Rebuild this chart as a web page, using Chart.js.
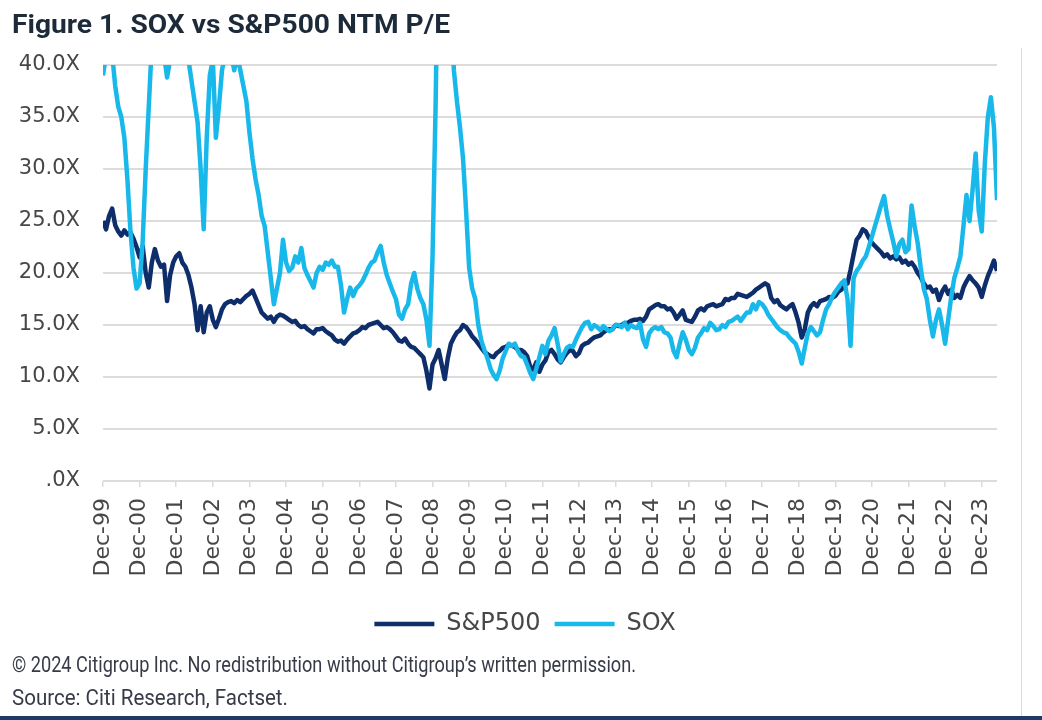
<!DOCTYPE html>
<html>
<head>
<meta charset="utf-8">
<script src="https://cdn.jsdelivr.net/npm/chart.js@4.4.0/dist/chart.umd.min.js"></script>
<style>
html,body{margin:0;padding:0;background:#fff;}
#wrap{position:relative;width:1042px;height:720px;overflow:hidden;background:#fff;}
#c{position:absolute;left:0;top:0;}
.txt{position:absolute;left:12px;white-space:nowrap;transform-origin:0 0;display:inline-block;}
#title{top:11px;font-family:Roboto,sans-serif;font-weight:700;font-size:26px;line-height:26px;color:#1d2a39;}
#f1{top:654px;font-family:Roboto,sans-serif;font-size:22px;line-height:22px;color:#363b47;}
#f2{top:687px;font-family:Roboto,sans-serif;font-size:22px;line-height:22px;color:#363b47;}
#bar{position:absolute;left:0;top:716px;width:1042px;height:4px;background:#1f3a66;}
#rline{position:absolute;left:1021px;top:48px;width:1px;height:668px;background:#dadada;}
</style>
</head>
<body>
<div id="wrap">
  <canvas id="c" width="1042" height="720"></canvas>
  <div id="title" class="txt">Figure 1. SOX vs S&amp;P500 NTM P/E</div>
  <div id="f1" class="txt">© 2024 Citigroup Inc. No redistribution without Citigroup’s written permission.</div>
  <div id="f2" class="txt">Source: Citi Research, Factset.</div>
  <div id="bar"></div>
  <div id="rline"></div>
</div>
<script>
// Monthly observations, index 0 = Dec-99
const seriesNames = ['S&P500', 'SOX'];

const sp500Values = [
  25.0, 24.2, 25.5, 26.2, 24.6, 24.0, 23.6, 24.1, 23.7, 23.9, 23.3, 22.5,
  21.5, 22.6, 20.0, 18.6, 21.0, 22.3, 21.2, 20.6, 20.8, 17.3, 19.8, 21.0,
  21.6, 21.9, 21.0, 20.6, 19.8, 18.6, 17.0, 14.5, 16.8, 14.3, 16.2, 16.8,
  15.5, 14.8, 15.6, 16.5, 17.0, 17.2, 17.3, 17.1, 17.4, 17.2, 17.5, 17.8,
  18.0, 18.3, 17.6, 16.9, 16.2, 15.9, 15.6, 15.8, 15.3, 15.8, 16.0, 15.9,
  15.7, 15.5, 15.3, 15.4, 15.0, 14.8, 14.9, 14.6, 14.4, 14.2, 14.6, 14.6,
  14.7, 14.4, 14.2, 14.0, 13.6, 13.4, 13.5, 13.2, 13.6, 13.9, 14.2, 14.3,
  14.5, 14.8, 14.7, 15.0, 15.1, 15.2, 15.3, 15.0, 14.7, 14.8, 14.6, 14.3,
  13.9, 13.5, 13.4, 13.7, 13.2, 12.9, 12.8, 12.5, 12.2, 11.9, 10.6, 8.9,
  11.2, 11.8, 12.6, 11.2, 9.8, 11.8, 13.2, 13.8, 14.3, 14.5, 15.0, 14.8,
  14.4, 13.9, 13.6, 13.2, 12.8, 12.4, 12.2, 12.0, 11.9, 12.3, 12.5, 12.8,
  12.9, 13.1, 13.0, 12.9, 12.6, 12.6, 12.4, 12.0, 11.0, 10.7, 11.4, 10.5,
  11.2, 11.6, 12.4, 12.6, 12.2, 11.7, 11.4, 11.9, 12.3, 12.6, 12.5, 12.0,
  12.3, 13.0, 13.2, 13.3, 13.6, 13.8, 13.9, 14.0, 14.3, 14.5, 14.6, 14.6,
  15.0, 14.9, 15.0, 15.2, 15.2, 15.4, 15.5, 15.5, 15.6, 15.4, 15.8, 16.5,
  16.7, 16.9, 17.0, 16.8, 16.8, 16.5, 16.6, 16.2, 15.6, 16.0, 16.4, 15.5,
  15.4, 15.3, 15.8, 16.4, 16.6, 16.4, 16.8, 16.9, 17.0, 16.8, 16.9, 17.0,
  17.5, 17.4, 17.6, 17.6, 18.0, 17.9, 17.8, 17.7, 17.9, 18.1, 18.4, 18.6,
  18.8, 19.0, 18.8, 17.6, 17.2, 17.4, 16.9, 16.7, 16.5, 16.8, 17.0, 16.2,
  15.2, 13.8, 14.6, 16.2, 16.8, 17.1, 16.8, 17.3, 17.4, 17.5, 17.7, 17.6,
  17.8, 18.2, 18.4, 18.8, 19.0, 20.3, 21.8, 23.2, 23.6, 24.2, 24.0, 23.4,
  22.9, 22.6, 22.3, 22.0, 21.6, 21.8, 21.4, 21.6, 21.3, 21.5, 21.0, 21.2,
  20.8, 21.0, 20.6, 20.0, 19.6, 19.0, 18.6, 18.7, 18.2, 18.4, 17.4, 18.2,
  18.7, 18.0, 18.4, 17.6, 17.9, 17.6, 18.6, 19.2, 19.7, 19.3, 19.0, 18.6,
  17.7, 18.8, 19.7, 20.4, 21.2, 20.2
];

const soxValues = [
  39.0, 41.0, 44.0, 41.0, 38.0, 36.0, 35.0, 33.0, 29.0, 24.0, 20.5, 18.5,
  19.0, 23.0, 30.0, 36.0, 42.0, 48.0, 50.0, 46.0, 41.0, 38.8, 40.5, 45.0,
  50.0, 52.0, 48.0, 44.0, 40.5, 38.5, 36.5, 34.5, 30.0, 24.2, 33.0, 39.0,
  40.5, 33.0, 36.0, 39.5, 41.0, 40.5, 41.0, 39.5, 41.0, 39.5, 38.0, 36.5,
  33.5, 31.0, 29.0, 27.5, 25.5, 24.5, 22.0, 19.5, 17.0, 18.5, 20.0, 23.2,
  21.0, 20.2, 20.5, 21.6, 21.0, 22.4, 20.5, 19.8, 19.2, 18.6, 20.0, 20.6,
  20.3, 21.0, 20.8, 21.2, 20.6, 20.6, 18.8, 16.2, 17.5, 18.6, 17.8, 18.5,
  18.8, 19.2, 19.8, 20.5, 21.0, 21.2, 22.0, 22.6, 21.0, 19.8, 19.0, 18.2,
  17.5, 16.0, 15.6, 16.5, 17.0, 19.0, 20.0, 18.5, 17.6, 17.0, 15.5, 13.0,
  21.5, 36.0, 55.0, 70.0, 80.0, 60.0, 45.0, 39.5, 36.5, 34.0, 31.0, 26.0,
  20.5, 18.5, 17.5, 15.0, 13.5, 12.6, 11.8, 10.8, 10.2, 9.8, 10.6, 11.8,
  12.5, 13.2, 13.0, 13.2, 12.5, 12.0, 11.9, 11.2, 10.4, 9.8, 10.8, 11.9,
  13.0, 12.2, 13.5, 14.0, 14.7, 13.2, 11.5, 12.2, 12.8, 13.0, 12.9, 13.6,
  14.2, 14.8, 15.2, 15.3, 14.6, 15.0, 14.8, 14.5, 14.9, 14.6, 14.4, 14.6,
  15.0, 15.0, 14.8, 15.2, 14.6, 15.0, 14.8, 14.7, 15.2, 13.6, 12.9, 14.2,
  14.6, 14.8, 14.6, 14.8, 14.3, 14.2, 13.8, 12.5, 11.9, 13.2, 14.3, 13.6,
  12.6, 12.2, 12.8, 13.8, 14.2, 14.7, 14.5, 15.2, 14.9, 14.5, 14.6, 15.0,
  14.8, 15.3, 15.4, 15.6, 15.8, 15.4, 15.8, 16.2, 16.2, 17.0, 16.5, 17.2,
  17.0, 16.6, 16.0, 15.6, 15.2, 14.8, 14.5, 14.3, 14.2, 13.8, 13.5, 13.2,
  12.4, 11.3, 12.8, 14.2, 14.8, 14.4, 14.0, 14.3, 15.5, 16.5, 17.0, 17.7,
  18.2, 18.6, 19.0, 19.3, 17.5, 13.0, 19.5, 20.2, 20.6, 21.2, 21.6, 22.5,
  23.5, 24.5, 25.5, 26.5, 27.4, 25.5, 24.2, 23.0, 21.6, 22.8, 23.2, 22.0,
  22.3, 26.5, 24.5, 22.9, 20.5, 18.5, 17.5, 15.5, 13.9, 15.5, 16.5, 15.0,
  13.2, 15.5, 17.7, 19.5, 20.5, 21.6, 24.5, 27.5, 25.0, 28.0, 31.5, 26.0,
  24.0, 30.5, 35.0, 36.9, 34.0, 27.0
];

const xTickLabels = ['Dec-99','Dec-00','Dec-01','Dec-02','Dec-03','Dec-04','Dec-05','Dec-06',
  'Dec-07','Dec-08','Dec-09','Dec-10','Dec-11','Dec-12','Dec-13','Dec-14','Dec-15','Dec-16',
  'Dec-17','Dec-18','Dec-19','Dec-20','Dec-21','Dec-22','Dec-23'];
const yTickLabels = ['.0X','5.0X','10.0X','15.0X','20.0X','25.0X','30.0X','35.0X','40.0X'];

const toPoints = arr => arr.map((v, i) => ({x: i, y: v}));

const gridColor = '#dcdcdc';
const textColor = '#474747';

new Chart(document.getElementById('c'), {
  type: 'line',
  data: {
    datasets: [
      {
        label: seriesNames[0],
        data: toPoints(sp500Values),
        borderColor: '#0e2d6b',
        backgroundColor: '#0e2d6b',
        borderWidth: 4.5,
        pointRadius: 0,
        tension: 0,
        borderJoinStyle: 'round',
        order: 2
      },
      {
        label: seriesNames[1],
        data: toPoints(soxValues),
        borderColor: '#19b8ea',
        backgroundColor: '#19b8ea',
        borderWidth: 4.5,
        pointRadius: 0,
        tension: 0,
        borderJoinStyle: 'round',
        order: 1
      }
    ]
  },
  options: {
    responsive: false,
    animation: false,
    devicePixelRatio: 1,
    layout: { padding: { left: 8, right: 0, top: 65, bottom: 74 } },
    plugins: {
      title: { display: false },
      tooltip: { enabled: false },
      legend: {
        position: 'bottom',
        labels: {
          usePointStyle: true,
          pointStyle: 'line',
          pointStyleWidth: 60,
          padding: 14,
          color: textColor,
          font: { family: 'DejaVu Sans', size: 24 },
          sort: (a, b) => a.datasetIndex - b.datasetIndex
        }
      }
    },
    scales: {
      x: {
        type: 'linear',
        min: 0,
        max: 293,
        afterFit: s => { s.height = 117; },
        border: { display: false },
        grid: { drawOnChartArea: false, drawTicks: true, tickLength: 6, color: gridColor, lineWidth: 1.5 },
        ticks: {
          stepSize: 12,
          maxTicksLimit: 40,
          includeBounds: false,
          autoSkip: false,
          minRotation: 90,
          maxRotation: 90,
          padding: 11,
          color: textColor,
          font: { family: 'DejaVu Sans', size: 22 },
          callback: v => xTickLabels[Math.round(v / 12)]
        }
      },
      y: {
        min: 0,
        max: 40,
        afterFit: s => { s.width = 95; },
        border: { display: false },
        grid: { drawTicks: false, color: gridColor, lineWidth: 2 },
        ticks: {
          stepSize: 5,
          padding: 23,
          color: textColor,
          font: { family: 'DejaVu Sans', size: 21 },
          callback: v => yTickLabels[Math.round(v / 5)]
        }
      },
      yRight: {
        position: 'right',
        min: 0,
        max: 40,
        afterFit: s => { s.width = 45; },
        border: { display: false },
        grid: { display: false },
        ticks: { display: false }
      }
    }
  }
});

function fitWidth(id, w) {
  const el = document.getElementById(id);
  el.style.transform = 'none';
  const nat = el.getBoundingClientRect().width;
  el.style.transform = 'scaleX(' + (w / nat) + ')';
}
fitWidth('title', 438);
fitWidth('f1', 624);
fitWidth('f2', 276);
</script>
</body>
</html>
